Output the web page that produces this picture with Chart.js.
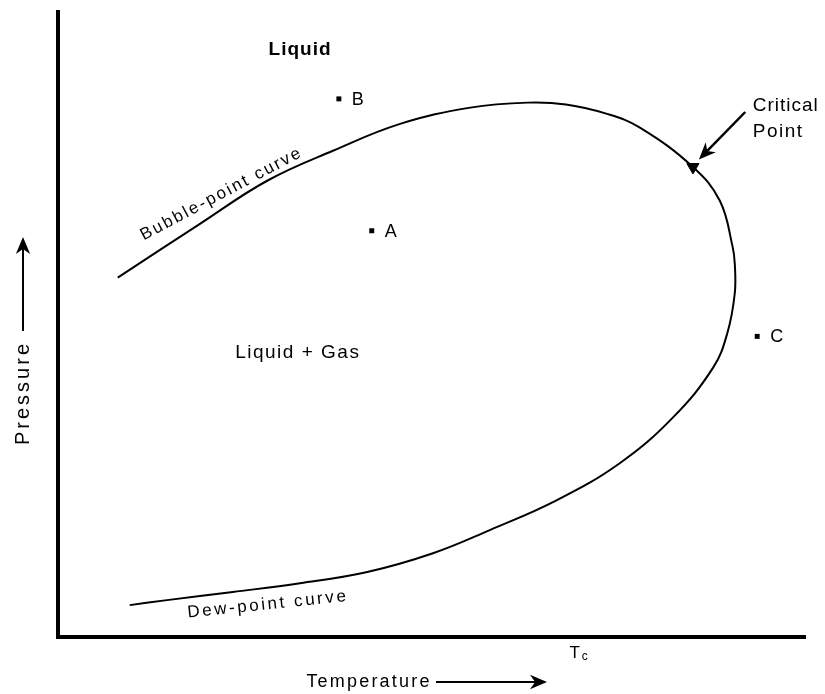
<!DOCTYPE html>
<html>
<head>
<meta charset="utf-8">
<script src="https://cdn.jsdelivr.net/npm/chart.js@4.4.1/dist/chart.umd.min.js"></script>
<style>
  html, body { margin: 0; padding: 0; background: #fff; }
  #wrap { width: 825px; height: 694px; }
</style>
</head>
<body>
<div id="wrap"><canvas id="phaseChart"></canvas></div>
<script>
// phase envelope, arbitrary units (0..100 on both axes)
const bubbleT = [8.0, 19.0, 28.0, 36.8, 45.8, 55.2, 62.9, 68.0, 73.5, 77.9];
const bubbleP = [57.5, 66.1, 73.0, 77.8, 82.1, 84.7, 85.5, 85.2, 83.7, 81.5];
const critT = 85.0;
const critP = 75.2;
const dewT = [88.6, 90.3, 90.6, 90.6, 89.6, 87.7, 82.3, 75.2, 66.8, 57.8, 50.2, 41.4, 32.4, 23.4, 14.6, 9.6];
const dewP = [69.8, 62.5, 59.7, 55.0, 48.6, 43.1, 35.1, 27.8, 21.9, 17.1, 13.4, 10.4, 8.6, 7.2, 5.9, 5.1];

// state points
const stateNames = ['A', 'B', 'C'];
const stateT = [42.0, 37.6, 93.6];
const stateP = [65.0, 86.1, 48.1];

const tcT = 69.7; // T_c mark on the x axis

const font = "'Liberation Sans', Arial, sans-serif";

const envelope = []
  .concat(bubbleT.map((t, i) => ({ x: t, y: bubbleP[i] })))
  .concat([{ x: critT, y: critP }])
  .concat(dewT.map((t, i) => ({ x: t, y: dewP[i] })));

function drawText(ctx, txt, x, y, opts) {
  ctx.save();
  ctx.translate(x, y);
  ctx.rotate((opts.angle || 0) * Math.PI / 180);
  ctx.font = opts.font;
  ctx.letterSpacing = (opts.spacing || 0) + 'px';
  ctx.fillStyle = '#000';
  ctx.textAlign = opts.align || 'center';
  ctx.textBaseline = 'middle';
  ctx.fillText(txt, 0, 0);
  ctx.restore();
}

function arrow(ctx, x1, y1, x2, y2, head, lw) {
  const a = Math.atan2(y2 - y1, x2 - x1);
  ctx.save();
  ctx.strokeStyle = '#000';
  ctx.fillStyle = '#000';
  ctx.lineWidth = lw;
  ctx.beginPath();
  ctx.moveTo(x1, y1);
  ctx.lineTo(x2 - Math.cos(a) * head * 0.6, y2 - Math.sin(a) * head * 0.6);
  ctx.stroke();
  ctx.translate(x2, y2);
  ctx.rotate(a);
  ctx.beginPath();
  ctx.moveTo(0, 0);
  ctx.lineTo(-head, -head * 0.42);
  ctx.lineTo(-head * 0.7, 0);
  ctx.lineTo(-head, head * 0.42);
  ctx.closePath();
  ctx.fill();
  ctx.restore();
}

const annotations = {
  id: 'annotations',
  afterDatasetsDraw(chart) {
    const ctx = chart.ctx;
    const xs = chart.scales.x;
    const ys = chart.scales.y;
    const px = v => xs.getPixelForValue(v);
    const py = v => ys.getPixelForValue(v);

    drawText(ctx, 'Liquid', px(32.4), py(93.9), { font: 'bold 19px ' + font, spacing: 1 });
    drawText(ctx, 'Liquid + Gas', px(32.1), py(45.5), { font: '19px ' + font, spacing: 1.5 });
    drawText(ctx, 'Bubble-point curve', px(21.9), py(70.9), { font: '17px ' + font, spacing: 2.2, angle: -28 });
    drawText(ctx, 'Dew-point curve', px(28.1), py(5.2), { font: '17px ' + font, spacing: 2.6, angle: -6 });
    drawText(ctx, 'Critical', px(93.0), py(85.0), { font: '19px ' + font, spacing: 1, align: 'left' });
    drawText(ctx, 'Point', px(93.0), py(80.8), { font: '19px ' + font, spacing: 1.5, align: 'left' });
    arrow(ctx, px(92.0), py(84.0), px(85.8), py(76.4), 17, 2.5);

    stateNames.forEach((n, i) => {
      drawText(ctx, n, px(stateT[i]) + 13, py(stateP[i]) + 1, { font: '18px ' + font, align: 'left' });
    });

    // T_c below the axis
    const ca = chart.chartArea;
    drawText(ctx, 'T', px(tcT) - 4, ca.bottom + 16, { font: '17px ' + font });
    drawText(ctx, 'c', px(tcT) + 6, ca.bottom + 20, { font: '12px ' + font });

    // axis titles with arrows
    drawText(ctx, 'Temperature', ca.left + 311, ca.bottom + 45, { font: '18px ' + font, spacing: 2.2 });
    arrow(ctx, ca.left + 378, ca.bottom + 45, ca.left + 489, ca.bottom + 45, 17, 2);
    drawText(ctx, 'Pressure', ca.left - 35, ca.top + 381, { font: '20px ' + font, spacing: 3, angle: -90 });
    arrow(ctx, ca.left - 35, ca.top + 319, ca.left - 35, ca.top + 225, 17, 2);
  }
};

new Chart(document.getElementById('phaseChart'), {
  type: 'scatter',
  data: {
    datasets: [
      {
        label: 'Phase envelope',
        data: envelope,
        showLine: true,
        borderColor: '#000',
        borderWidth: 2,
        tension: 0.4,
        pointRadius: 0
      },
      {
        label: 'Critical point',
        data: [{ x: critT, y: critP }],
        pointStyle: 'triangle',
        rotation: 180,
        pointRadius: 7,
        backgroundColor: '#000',
        borderColor: '#000'
      },
      {
        label: 'State points',
        data: stateT.map((t, i) => ({ x: t, y: stateP[i] })),
        pointStyle: 'rect',
        pointRadius: 3.5,
        backgroundColor: '#000',
        borderColor: '#000',
        borderWidth: 0
      }
    ]
  },
  options: {
    responsive: true,
    maintainAspectRatio: false,
    animation: false,
    layout: {
      padding: { left: 50, right: 20, top: 12, bottom: 49 }
    },
    scales: {
      x: {
        type: 'linear',
        min: 0,
        max: 100,
        grid: { display: false },
        ticks: { display: false },
        border: { display: true, color: '#000', width: 4 }
      },
      y: {
        type: 'linear',
        min: 0,
        max: 100,
        grid: { display: false },
        ticks: { display: false },
        border: { display: true, color: '#000', width: 4 }
      }
    },
    plugins: {
      legend: { display: false },
      tooltip: { enabled: false }
    }
  },
  plugins: [annotations]
});
</script>
</body>
</html>
